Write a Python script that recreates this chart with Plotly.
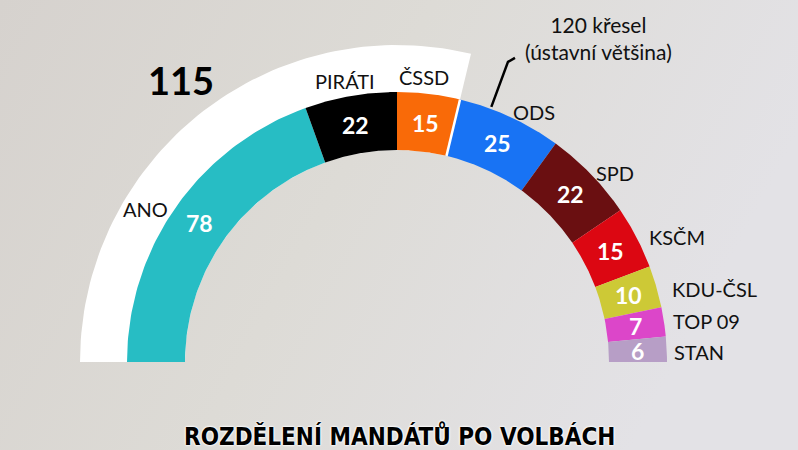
import base64
import numpy as np
import plotly.graph_objects as go

# --- data ---------------------------------------------------------------
parties = ['ANO', 'PIRÁTI', 'ČSSD', 'ODS', 'SPD', 'KSČM', 'KDU-ČSL', 'TOP 09', 'STAN']
seats = [78, 22, 15, 25, 22, 15, 10, 7, 6]
colors = ['#27bdc4', '#000000', '#f96a08', '#1873f4', '#6a0f11',
          '#dc0712', '#cdc936', '#dc46c9', '#b79ec6']
coalition_seats = 115          # ANO + PIRÁTI + ČSSD
majority_seats = 120
majority_text = '120 křesel<br>(ústavní většina)'
title_text = 'ROZDĚLENÍ MANDÁTŮ PO VOLBÁCH'

# name label positions (canvas px), laid out by hand like the original
name_pos = [(145, 209), (345, 81), (424, 77), (534, 112), (615, 173),
            (647, 237), (670, 289), (671, 321), (672, 352)]
name_anchor = ['center', 'center', 'center', 'center', 'center',
               'left', 'left', 'left', 'left']

# --- geometry -----------------------------------------------------------
TOTAL = sum(seats)
CX, CY = 397, 362
R_IN, R_OUT, R_WHITE = 212, 270, 317
FONT = 'Lato, Open Sans, sans-serif'


def ang(s):
    return np.pi * (1 - s / TOTAL)


def wedge(s0, s1, r0, r1, n=80):
    a = np.linspace(ang(s0), ang(s1), n)
    xs = np.concatenate([CX + r1 * np.cos(a), CX + r0 * np.cos(a[::-1])])
    ys = np.concatenate([CY - r1 * np.sin(a), CY - r0 * np.sin(a[::-1])])
    return np.append(xs, xs[0]), np.append(ys, ys[0])


fig = go.Figure()

# white band behind the coalition
wx, wy = wedge(0, coalition_seats, R_IN, R_WHITE)
fig.add_trace(go.Scatter(x=wx, y=wy, fill='toself', fillcolor='white',
                         line=dict(width=0), mode='lines', hoverinfo='skip',
                         showlegend=False))

cum = np.concatenate([[0], np.cumsum(seats)])
for i, (p, s, c) in enumerate(zip(parties, seats, colors)):
    x, y = wedge(cum[i], cum[i + 1], R_IN, R_OUT)
    fig.add_trace(go.Scatter(x=x, y=y, fill='toself', fillcolor=c,
                             line=dict(width=0), mode='lines', name=p,
                             hoverinfo='name', showlegend=False))
    am = ang((cum[i] + cum[i + 1]) / 2)
    rm = (R_IN + R_OUT) / 2
    fig.add_annotation(x=CX + rm * np.cos(am), y=CY - rm * np.sin(am),
                       text=f'<b>{s}</b>', showarrow=False,
                       font=dict(family=FONT, size=23, color='white'))
    nx, ny = name_pos[i]
    fig.add_annotation(x=nx, y=ny, text=p, showarrow=False,
                       xanchor=name_anchor[i],
                       font=dict(family=FONT, size=20, color='#111111'))

# white separator at the coalition edge
a = ang(coalition_seats)
fig.add_trace(go.Scatter(x=[CX + R_IN * np.cos(a), CX + R_OUT * np.cos(a)],
                         y=[CY - R_IN * np.sin(a), CY - R_OUT * np.sin(a)],
                         mode='lines', line=dict(color='white', width=2.5),
                         hoverinfo='skip', showlegend=False))

# constitutional majority marker (drawn a touch left of the exact seat, as in the original)
a = ang(majority_seats) - 0.04
fig.add_trace(go.Scatter(
    x=[CX + (R_OUT + 2) * np.cos(a), CX + 320 * np.cos(a), CX + 320 * np.cos(a) + 7],
    y=[CY - (R_OUT + 2) * np.sin(a), CY - 320 * np.sin(a), CY - 320 * np.sin(a) - 4],
    mode='lines', line=dict(color='black', width=2.5),
    hoverinfo='skip', showlegend=False))
fig.add_annotation(x=598, y=38, text=majority_text, showarrow=False,
                   font=dict(family=FONT, size=21, color='#111111'))

fig.add_annotation(x=181, y=80, text='<b>115</b>', showarrow=False,
                   font=dict(family=FONT, size=38, color='black'))

fig.add_annotation(x=399, y=436, text=f'<b>{title_text}</b>', showarrow=False,
                   font=dict(family='Liberation Sans Narrow, DejaVu Sans Condensed, sans-serif',
                             size=24, color='black',
                             shadow='0px 0px 2px white, 0px 0px 2px white, 0px 0px 3px white'))

# soft grey backdrop
svg = ('<svg xmlns="http://www.w3.org/2000/svg" width="798" height="450">'
       '<defs><linearGradient id="g" x1="0" y1="0" x2="1" y2="0.3">'
       '<stop offset="0" stop-color="#d6d2ce"/><stop offset="0.5" stop-color="#dddbd6"/>'
       '<stop offset="1" stop-color="#e3e2e6"/></linearGradient></defs>'
       '<rect width="798" height="450" fill="url(#g)"/></svg>')
src = 'data:image/svg+xml;base64,' + base64.b64encode(svg.encode()).decode()

fig.update_layout(
    width=798, height=450,
    margin=dict(l=0, r=0, t=0, b=0),
    paper_bgcolor='#dcdad6', plot_bgcolor='rgba(0,0,0,0)',
    xaxis=dict(range=[0, 798], visible=False, fixedrange=True),
    yaxis=dict(range=[450, 0], visible=False, fixedrange=True),
    images=[dict(source=src, xref='paper', yref='paper', x=0, y=1,
                 sizex=1, sizey=1, sizing='stretch', layer='below')],
)

fig.write_html('out.html', config={'displayModeBar': False},
               post_script="document.body.style.margin='0';document.body.style.overflow='hidden';")
